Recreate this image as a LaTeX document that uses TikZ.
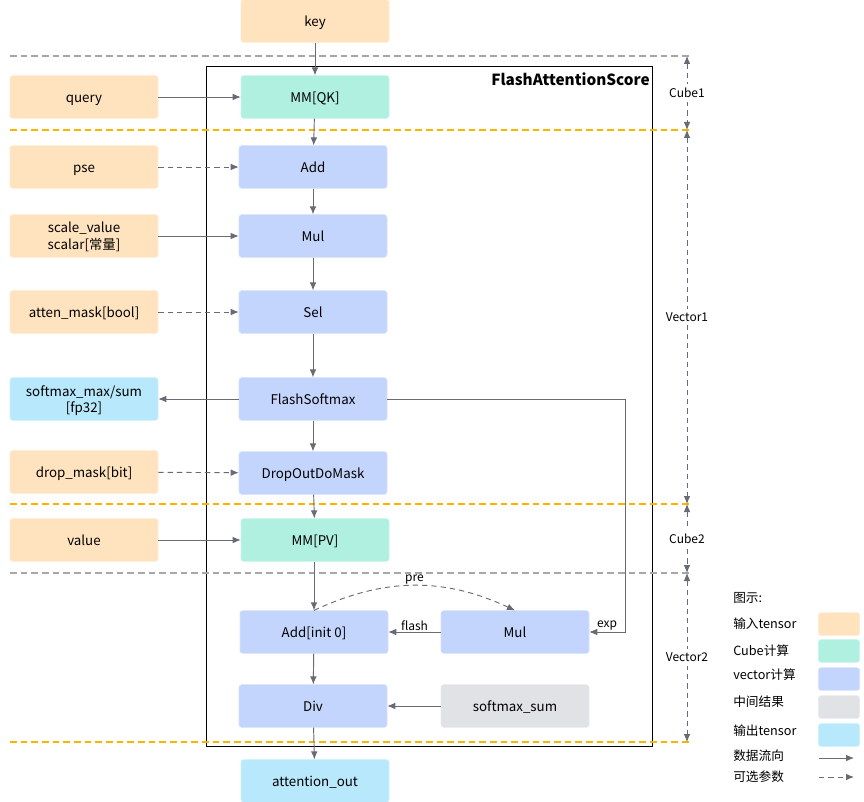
\documentclass[tikz,border=0pt]{standalone}
\usepackage{fontspec}
\setmainfont{Noto Sans CJK SC}
\usetikzlibrary{arrows.meta}

\definecolor{inpc}{HTML}{FFE3BF}
\definecolor{cubec}{HTML}{B0F0E1}
\definecolor{vecc}{HTML}{C3D4FD}
\definecolor{midc}{HTML}{E1E2E6}
\definecolor{outc}{HTML}{B8E8FB}
\definecolor{linec}{HTML}{686B73}
\definecolor{sepc}{HTML}{F7B500}

\begin{document}
\begin{tikzpicture}[
    x=0.75pt, y=-0.75pt,
    >={Latex[length=6pt,width=5pt]},
    box/.style={
        draw=#1!70!white, fill=#1, rounded corners=2pt,
        minimum height=32pt, minimum width=111pt,
        font=\fontsize{10}{12.5}\selectfont, inner sep=2pt,
        text height=10pt, text depth=2pt,
        text centered, align=center
    },
    twoline/.style={text height=22.5pt, text depth=2pt},
    arr/.style={->, draw=linec, line width=0.7pt},
    opt/.style={arr, dashed, dash pattern=on 4pt off 3pt},
    lbl/.style={font=\fontsize{9}{11}\selectfont, inner sep=1pt},
    sep/.style={dashed, dash pattern=on 5pt off 3pt, line width=0.8pt},
    dim/.style={<->, draw=linec, dashed, dash pattern=on 4pt off 3pt, line width=0.7pt},
    swatch/.style={draw=#1!70!white, fill=#1, rounded corners=2pt, minimum width=31pt, minimum height=17pt, inner sep=0pt},
    leg/.style={font=\fontsize{9.5}{11}\selectfont, anchor=west, inner sep=0pt},
]
\useasboundingbox (0,0) rectangle (864,802);

% Outer frame of the operator
\draw[line width=0.7pt] (206,66) rectangle (652,746);
\node[font=\bfseries\fontsize{11.5}{13}\selectfont, anchor=north east, inner sep=0pt] (title) at (650,72) {FlashAttentionScore};

% Stage separators
\draw[sep, draw=gray!70] (10,56) -- (692,56);
\draw[sep, draw=sepc] (10,130) -- (692,130);
\draw[sep, draw=sepc] (10,504) -- (692,504);
\draw[sep, draw=gray!70] (10,573) -- (692,573);
\draw[sep, draw=sepc] (10,742) -- (692,742);

% Inputs (left column)
\node[box=inpc] (key) at (315,21) {key};
\node[box=inpc] (query) at (84,97) {query};
\node[box=inpc] (pse) at (84,167) {pse};
\node[box=inpc, twoline] (scale) at (84,236) {scale\_value\\scalar[常量]};
\node[box=inpc] (atten) at (84,312) {atten\_mask[bool]};
\node[box=outc, twoline] (smx) at (84,399) {softmax\_max/sum\\{[fp32]}};
\node[box=inpc] (drop) at (84,472) {drop\_mask[bit]};
\node[box=inpc] (value) at (84,540) {value};

% Compute chain (middle column)
\node[box=cubec] (mmqk) at (315,97) {MM[QK]};
\node[box=vecc] (add) at (313,167) {Add};
\node[box=vecc] (mul) at (313,236) {Mul};
\node[box=vecc] (sel) at (313,312) {Sel};
\node[box=vecc] (fsm) at (313,399) {FlashSoftmax};
\node[box=vecc] (dom) at (313,473) {DropOutDoMask};
\node[box=cubec] (mmpv) at (315,540) {MM[PV]};
\node[box=vecc] (addi) at (314,632) {Add[init 0]};
\node[box=vecc] (div) at (313,706) {Div};
\node[box=outc] (out) at (315,781) {attention\_out};

% Right column of the vector2 stage
\node[box=vecc] (mulb) at (515,632) {Mul};
\node[box=midc] (smsum) at (515,706) {softmax\_sum};
\coordinate (expc) at (625,632);

% Main flow
\draw[arr] (key) -- (mmqk);
\draw[arr] (mmqk) -- (add);
\draw[arr] (add) -- (mul);
\draw[arr] (mul) -- (sel);
\draw[arr] (sel) -- (fsm);
\draw[arr] (fsm) -- (dom);
\draw[arr] (dom) -- (mmpv);
\draw[arr] (mmpv.south -| addi) -- (addi);
\draw[arr] (addi) -- (div);
\draw[arr] (div) -- (out);

% Side inputs
\draw[arr] (query) -- (mmqk);
\draw[opt] (pse) -- (add);
\draw[arr] (scale) -- (mul);
\draw[opt] (atten) -- (sel);
\draw[arr] (fsm) -- (smx);
\draw[opt] (drop) -- (dom);
\draw[arr] (value) -- (mmpv);

% Rescale loop
\draw[arr] (fsm.east) -| (expc) -- node[lbl, above, pos=0.5] {exp} (mulb.east);
\draw[arr] (mulb) -- node[lbl, above] {flash} (addi);
\draw[opt] (addi.north) to[bend left=25] node[lbl, above] {pre} (mulb.north);
\draw[arr] (smsum) -- (div);

% Stage ranges on the right
\coordinate (d0) at (687,56);
\coordinate (d1) at (687,130);
\coordinate (d2) at (687,504);
\coordinate (d3) at (687,573);
\coordinate (d4) at (687,742);
\draw[dim] (d0) -- node[lbl, fill=white, inner sep=3pt] {Cube1} (d1);
\draw[dim] (d1) -- node[lbl, fill=white, inner sep=3pt] {Vector1} (d2);
\draw[dim] (d2) -- node[lbl, fill=white, inner sep=3pt] {Cube2} (d3);
\draw[dim] (d3) -- node[lbl, fill=white, inner sep=3pt] {Vector2} (d4);

% Legend
\node[leg] (lgtitle) at (733,598) {图示:};
\node[leg] (lgin) at (733,624) {输入tensor};
\node[leg] (lgcube) at (733,651) {Cube计算};
\node[leg] (lgvec) at (733,675) {vector计算};
\node[leg] (lgmid) at (733,702) {中间结果};
\node[leg] (lgout) at (733,731) {输出tensor};
\node[leg] (lgflow) at (733,756) {数据流向};
\node[leg] (lgopt) at (733,777) {可选参数};
\node[swatch=inpc] (swin) at (839,624) {};
\node[swatch=cubec] (swcube) at (839,651) {};
\node[swatch=vecc] (swvec) at (839,679) {};
\node[swatch=midc] (swmid) at (839,707) {};
\node[swatch=outc] (swout) at (839,735) {};
\coordinate (fl0) at (819,758);
\coordinate (fl1) at (854,758);
\coordinate (op0) at (819,777);
\coordinate (op1) at (854,777);
\draw[arr] (fl0) -- (fl1);
\draw[opt] (op0) -- (op1);

\end{tikzpicture}
\end{document}
